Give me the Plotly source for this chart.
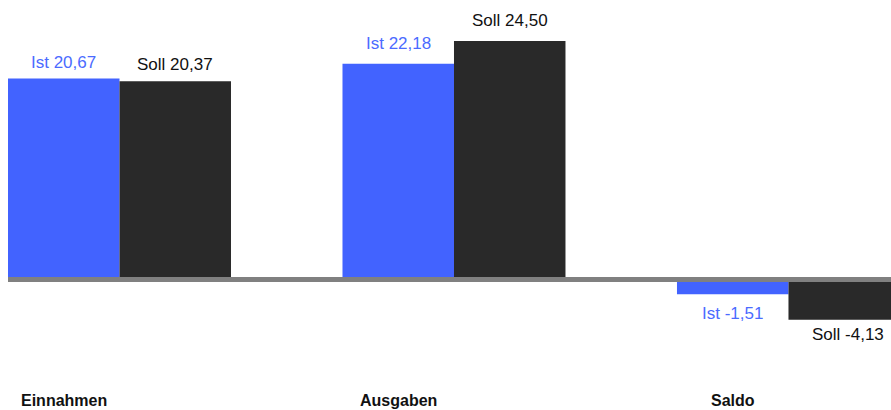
import plotly.graph_objects as go

categories = ["Einnahmen", "Ausgaben", "Saldo"]
ist_values = [20.67, 22.18, -1.51]
soll_values = [20.37, 24.50, -4.13]
series_names = ["Ist", "Soll"]

bar_colors = ["#4263ff", "#292929"]
text_colors = ["#4b6bff", "#111111"]
# vertical label offsets (px) from the bar end, per series/category
label_offsets = [[16, 20, 19], [16.5, 21, 15]]
label_xextra = [[0, 0, 0], [0, 0, 4]]

fig = go.Figure()
for s, vals in enumerate([ist_values, soll_values]):
    fig.add_trace(go.Bar(
        x=categories, y=vals, name=series_names[s],
        marker=dict(color=bar_colors[s], line=dict(width=0)),
        hoverinfo="skip",
    ))

half = 111.5 / 2
annotations = []
for s, vals in enumerate([ist_values, soll_values]):
    sign = -1 if s == 0 else 1
    for i, v in enumerate(vals):
        txt = f"{series_names[s]} {v:.2f}".replace(".", ",")
        off = label_offsets[s][i]
        annotations.append(dict(
            x=categories[i], y=v, xref="x", yref="y",
            xshift=sign * half + label_xextra[s][i],
            yshift=off if v >= 0 else -off,
            text=txt, showarrow=False, yanchor="middle", xanchor="center",
            font=dict(family="Liberation Sans, Arial, sans-serif", size=17, color=text_colors[s]),
        ))

for i, c in enumerate(categories):
    annotations.append(dict(
        x=c, y=1 - 400.5 / 410, xref="x", yref="paper", xshift=-half,
        text=f"<b>{c}</b>", showarrow=False, yanchor="middle", xanchor="center",
        font=dict(family="Liberation Sans, Arial, sans-serif", size=16, color="#111111"),
    ))

fig.update_layout(
    width=891, height=410,
    margin=dict(l=8, r=0, t=0, b=0),
    paper_bgcolor="white", plot_bgcolor="white",
    barmode="group", bargap=1/3, bargroupgap=0,
    showlegend=False,
    hovermode=False,
    xaxis=dict(type="category", range=[-1/3, 2.3065], visible=False, fixedrange=True),
    yaxis=dict(range=[-13.412, 28.725], visible=False, zeroline=False, showgrid=False, fixedrange=True),
    annotations=annotations,
    shapes=[dict(type="line", xref="paper", yref="y", x0=0, x1=1, y0=0, y1=0,
                 line=dict(color="#808080", width=5), layer="above")],
)

fig.write_html("out.html",
               config={"displayModeBar": False, "staticPlot": True},
               post_script="document.body.style.margin='0';document.body.style.overflow='hidden';")
